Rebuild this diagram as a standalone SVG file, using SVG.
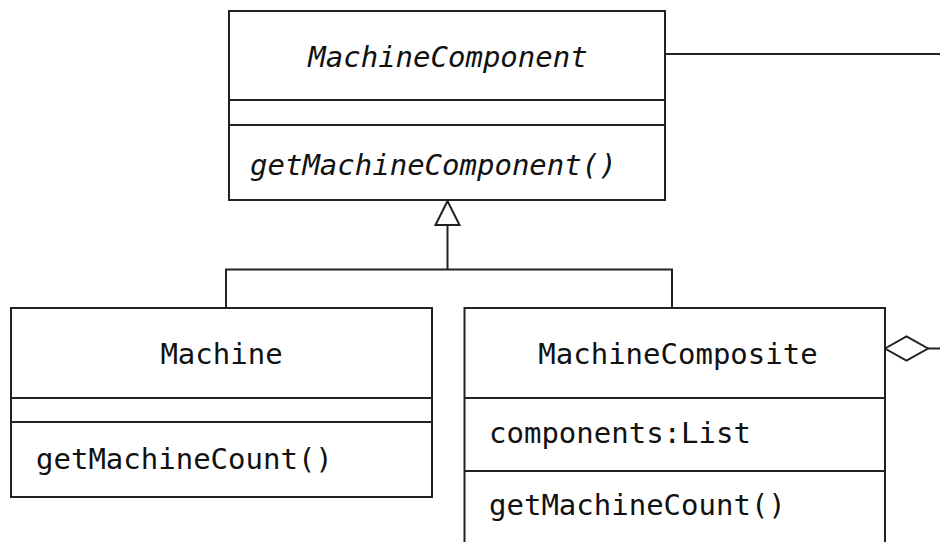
<svg xmlns="http://www.w3.org/2000/svg" width="940" height="542" viewBox="0 0 940 542">
<style>
.box{fill:#fff;stroke:#222;stroke-width:2}
.ln{stroke:#222;stroke-width:2;fill:none}
.t{font-family:"DejaVu Sans Mono","Liberation Mono",monospace;font-size:29px;fill:#111}
.i{font-style:italic}
.c{text-anchor:middle}
</style>
<rect width="940" height="542" fill="#fff"/>
<g id="connectors">
<line class="ln" x1="665" y1="54" x2="940" y2="54"/>
<polyline class="ln" points="226,308 226,269.5 672,269.5 672,308"/>
<line class="ln" x1="447.5" y1="225" x2="447.5" y2="269.5"/>
<polygon class="box" points="447.5,201 435.5,225 459.5,225"/>
<polygon class="box" points="885,348.5 906.5,336.5 928,348.5 906.5,360.5"/>
<line class="ln" x1="928" y1="348.5" x2="940" y2="348.5"/>
</g>
<g id="MachineComponent">
<rect class="box" x="229" y="11" width="436" height="189"/>
<line class="ln" x1="229" y1="100" x2="665" y2="100"/>
<line class="ln" x1="229" y1="125" x2="665" y2="125"/>
<text class="t i c" x="448" y="67">MachineComponent</text>
<text class="t i" x="250" y="175">getMachineComponent()</text>
</g>
<g id="Machine">
<rect class="box" x="11" y="308" width="421" height="189"/>
<line class="ln" x1="11" y1="398" x2="432" y2="398"/>
<line class="ln" x1="11" y1="422" x2="432" y2="422"/>
<text class="t c" x="221.5" y="364">Machine</text>
<text class="t" x="36" y="469">getMachineCount()</text>
</g>
<g id="MachineComposite">
<rect class="box" x="464.5" y="308" width="420.5" height="250"/>
<line class="ln" x1="464.5" y1="398" x2="885" y2="398"/>
<line class="ln" x1="464.5" y1="471" x2="885" y2="471"/>
<text class="t c" x="678" y="364">MachineComposite</text>
<text class="t" x="489" y="443">components:List</text>
<text class="t" x="489" y="515">getMachineCount()</text>
</g>
</svg>
